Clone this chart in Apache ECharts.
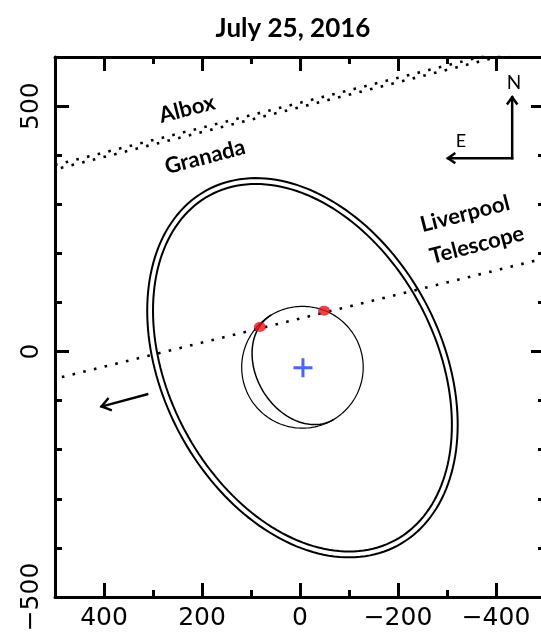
<!DOCTYPE html>
<html><head><meta charset="utf-8">
<script src="https://cdn.jsdelivr.net/npm/echarts@6/dist/echarts.min.js"></script>
<style>html,body{margin:0;padding:0;background:#fff}#c{width:541px;height:635px}</style>
</head><body><div id="c"></div>
<script>
// ---- data ----
const xTickLabels = [400, 200, 0, -200, -400];
const yTickLabels = [-500, 0, 500];
// ellipses: [centerX, centerY, semiMajor, semiMinor, tiltDeg, arcStartDeg, arcEndDeg]
const outerEllipseA = [-5, -33, 411, 284, 61.8, 0, 360];
const outerEllipseB = [-5, -33, 399, 272, 61.8, 0, 360];
const limbCircle = [-5, -32, 124, 124, 0, 0, 360];
const terminatorArc = [-5, -32, 124, 94, 59, 180, 360];
const chordPoints = [[82, 50], [-49, 83]];
const centerPoint = [[-6, -33]];
const alboxLine = [[500, 380], [-450, 621]];
const granadaLine = [[500, 371], [-450, 612]];
const liverpoolLine = [[486, -52], [-500, 190]];
const motionArrow = [[312, -87, 405, -112]];
const compassArrows = [[-433, 394, -433, 518], [-433, 394, -302, 394]];

const fmt = v => (v < 0 ? '\u2212' + Math.abs(v) : String(v));
const labelFont = {fontFamily: 'DejaVu Sans', fontSize: 25, color: '#000'};

function xAxisCfg(pos, major) {
  const tick = {show: true, inside: true, length: major ? 14 : 7, lineStyle: {color: '#000', width: 3}};
  if (major) tick.customValues = xTickLabels;
  const lab = Object.assign({show: major && pos === 'bottom', customValues: xTickLabels, formatter: fmt, margin: 9}, labelFont);
  return {type: 'value', gridIndex: 0, position: pos, min: -500, max: 500, inverse: true, interval: 100,
    axisLine: {show: !major, onZero: false, lineStyle: {color: '#000', width: 3}},
    axisTick: tick, axisLabel: lab, splitLine: {show: false}};
}
function yAxisCfg(pos, major) {
  const tick = {show: true, inside: true, length: major ? 14 : 7, lineStyle: {color: '#000', width: 3}};
  if (major) tick.customValues = yTickLabels;
  const lab = Object.assign({show: major && pos === 'left', customValues: yTickLabels, formatter: fmt, rotate: 90, margin: 11}, labelFont);
  return {type: 'value', gridIndex: 0, position: pos, min: -500, max: 600, interval: 100,
    axisLine: {show: !major, onZero: false, lineStyle: {color: '#000', width: 3}},
    axisTick: tick, axisLabel: lab, splitLine: {show: false}};
}

function ellipseSeries(p, lw) {
  return {type: 'custom', xAxisIndex: 0, yAxisIndex: 0, silent: true, clip: true, data: [p],
    renderItem(params, api) {
      const cx = api.value(0), cy = api.value(1), a = api.value(2), b = api.value(3), th = api.value(4) * Math.PI / 180;
      const t0 = api.value(5), t1 = api.value(6);
      const pts = [];
      for (let i = t0; i <= t1; i += 2) {
        const t = i * Math.PI / 180;
        const x = cx + a * Math.cos(t) * Math.cos(th) - b * Math.sin(t) * Math.sin(th);
        const y = cy + a * Math.cos(t) * Math.sin(th) + b * Math.sin(t) * Math.cos(th);
        pts.push(api.coord([x, y]));
      }
      return {type: 'polyline', shape: {points: pts}, style: {fill: 'none', stroke: '#000', lineWidth: lw}};
    }};
}
function arrowSeries(data, head) {
  return {type: 'custom', xAxisIndex: 0, yAxisIndex: 0, silent: true, clip: false, data: data,
    renderItem(params, api) {
      const s = api.coord([api.value(0), api.value(1)]);
      const e = api.coord([api.value(2), api.value(3)]);
      const ang = Math.atan2(e[1] - s[1], e[0] - s[0]);
      const sp = 0.62;
      const h1 = [e[0] - head * Math.cos(ang - sp), e[1] - head * Math.sin(ang - sp)];
      const h2 = [e[0] - head * Math.cos(ang + sp), e[1] - head * Math.sin(ang + sp)];
      return {type: 'group', children: [
        {type: 'line', shape: {x1: s[0], y1: s[1], x2: e[0], y2: e[1]}, style: {stroke: '#000', lineWidth: 2.5, lineCap: 'square'}},
        {type: 'polyline', shape: {points: [h1, e, h2]}, style: {stroke: '#000', lineWidth: 2.5, fill: 'none'}}
      ]};
    }};
}
function dottedLine(d, offset) {
  return {type: 'line', xAxisIndex: 0, yAxisIndex: 0, data: d, symbol: 'none', clip: true, silent: true,
    lineStyle: {color: '#000', width: 2.6, type: [2.6, 8.4], dashOffset: offset}};
}

const rot = 14.5 * Math.PI / 180;
const chart = echarts.init(document.getElementById('c'), null, {renderer: 'canvas'});
chart.setOption({
  animation: false,
  grid: {left: 55, top: 57, width: 490, height: 540, outerBoundsMode: 'none', containLabel: false},
  xAxis: [xAxisCfg('bottom', false), xAxisCfg('top', false), xAxisCfg('bottom', true), xAxisCfg('top', true)],
  yAxis: [yAxisCfg('left', false), yAxisCfg('right', false), yAxisCfg('left', true), yAxisCfg('right', true)],
  graphic: [
    {type: 'text', x: 293, y: 29, style: {text: 'July 25, 2016', font: 'bold 26px Lato', fill: '#000', align: 'center', verticalAlign: 'middle'}},
    {type: 'text', x: 187, y: 109, rotation: rot, style: {text: 'Albox', font: 'bold 22px Lato', fill: '#000', align: 'center', verticalAlign: 'middle'}},
    {type: 'text', x: 205, y: 157, rotation: rot, style: {text: 'Granada', font: 'bold 22px Lato', fill: '#000', align: 'center', verticalAlign: 'middle'}},
    {type: 'text', x: 465, y: 214, rotation: rot, style: {text: 'Liverpool', font: 'bold 22px Lato', fill: '#000', align: 'center', verticalAlign: 'middle'}},
    {type: 'text', x: 477, y: 245, rotation: rot, style: {text: 'Telescope', font: 'bold 22px Lato', fill: '#000', align: 'center', verticalAlign: 'middle'}},
    {type: 'text', x: 514, y: 83, style: {text: 'N', font: '19px Lato', fill: '#000', align: 'center', verticalAlign: 'middle'}},
    {type: 'text', x: 461, y: 141, style: {text: 'E', font: '18px Lato', fill: '#000', align: 'center', verticalAlign: 'middle'}}
  ],
  series: [
    dottedLine(alboxLine, 0),
    dottedLine(granadaLine, 5),
    dottedLine(liverpoolLine, 0),
    ellipseSeries(outerEllipseA, 2),
    ellipseSeries(outerEllipseB, 2),
    ellipseSeries(limbCircle, 1.2),
    ellipseSeries(terminatorArc, 1.5),
    arrowSeries(motionArrow, 11),
    arrowSeries(compassArrows, 9),
    {type: 'scatter', xAxisIndex: 0, yAxisIndex: 0, data: chordPoints, symbol: 'circle', symbolSize: [12, 10],
      itemStyle: {color: '#e8101a'}, silent: true, z: 5},
    {type: 'scatter', xAxisIndex: 0, yAxisIndex: 0, data: centerPoint, symbol: 'path://M8,0h3v8h8v3h-8v8h-3v-8h-8v-3h8z', symbolSize: 19,
      itemStyle: {color: '#1a3fff'}, silent: true, z: 5}
  ]
});
</script></body></html>
